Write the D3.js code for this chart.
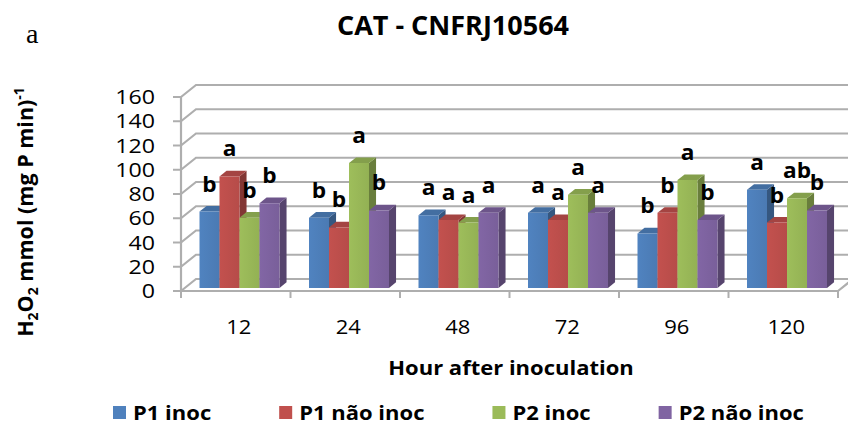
<!DOCTYPE html>
<html>
<head>
<meta charset="utf-8">
<script src="https://cdn.jsdelivr.net/npm/d3@7"></script>
<style>
  html, body { margin: 0; padding: 0; background: #ffffff; }
  svg { display: block; }
  text { font-family: "Open Sans", "Liberation Sans", sans-serif; }
</style>
</head>
<body>
<svg id="chart" width="848" height="425"></svg>
<script>
// Catalase activity by hour after inoculation
const hours = ["12", "24", "48", "72", "96", "120"];
const seriesNames = ["P1 inoc", "P1 não inoc", "P2 inoc", "P2 não inoc"];
const seriesColors = ["#4F81BD", "#C0504D", "#9BBB59", "#8064A2"];

const p1Inoc      = [63, 58, 60, 62, 45, 81];
const p1NaoInoc   = [92, 50, 56, 56, 62, 54];
const p2Inoc      = [58, 103, 54, 77, 89, 74];
const p2NaoInoc   = [70, 64, 62, 62, 56, 64];

// Significance letters above each bar
const p1InocLetters    = ["b", "b", "a", "a", "b", "a"];
const p1NaoInocLetters = ["a", "b", "a", "a", "b", "b"];
const p2InocLetters    = ["b", "a", "a", "a", "a", "ab"];
const p2NaoInocLetters = ["b", "b", "a", "a", "b", "b"];

const yTicks = [0, 20, 40, 60, 80, 100, 120, 140, 160];

const seriesValues = [p1Inoc, p1NaoInoc, p2Inoc, p2NaoInoc];
const seriesLetters = [p1InocLetters, p1NaoInocLetters, p2InocLetters, p2NaoInocLetters];

const svg = d3.select("#chart");

// Horizontally widened text (the chart's font runs wide)
function wideText(parent, x, yPos, sx, anchor) {
  return parent.append("text")
    .attr("transform", `translate(${x},${yPos}) scale(${sx},1)`)
    .attr("text-anchor", anchor || "start");
}

// Front plane scales
const x0 = d3.scaleBand().domain(hours).range([181, 838]).padding(0);
const x1 = d3.scaleBand().domain(seriesNames).range([0, x0.bandwidth()])
  .paddingInner(0).paddingOuter(0.7375);
const y = d3.scaleLinear().domain([0, 160]).range([291, 97]);

// Depth of the box (back wall offset)
const depth = { dx: 15, dy: -12 };
const proj = (px, v, z) => [px + z * depth.dx, y(v) + z * depth.dy];

const gridColor = "#aeaeae";

// Back wall gridlines and left wall diagonals
const grid = svg.append("g");
yTicks.forEach(t => {
  const a = proj(181, t, 0), b = proj(181, t, 1), c = proj(x0.range()[1], t, 1);
  grid.append("path")
    .attr("d", d3.line()([a, b, c]))
    .attr("fill", "none").attr("stroke", gridColor).attr("stroke-width", 2.2);
});

// Floor edges and left wall front edge
const floorFront = [proj(181, 0, 0), proj(x0.range()[1], 0, 0), proj(x0.range()[1], 0, 1)];
grid.append("path").attr("d", d3.line()(floorFront))
  .attr("fill", "none").attr("stroke", gridColor).attr("stroke-width", 2.2);
grid.append("line")
  .attr("x1", 181).attr("y1", y(0)).attr("x2", 181).attr("y2", y(160))
  .attr("stroke", gridColor).attr("stroke-width", 2.2);

// Value axis ticks and labels
const yAxis = svg.append("g");
yTicks.forEach(t => {
  yAxis.append("line").attr("x1", 173).attr("x2", 181)
    .attr("y1", y(t)).attr("y2", y(t))
    .attr("stroke", gridColor).attr("stroke-width", 2);
  wideText(yAxis, 155, y(t), 1.16, "end").attr("dy", "0.36em")
    .attr("font-size", 20).attr("fill", "#000").text(t);
});

// Category axis ticks and labels
const xAxis = svg.append("g");
const bounds = hours.map(h => x0(h)).concat([x0.range()[1]]);
bounds.forEach(bx => {
  xAxis.append("line").attr("x1", bx).attr("x2", bx).attr("y1", y(0)).attr("y2", y(0) + 7)
    .attr("stroke", gridColor).attr("stroke-width", 2);
});
hours.forEach(h => {
  wideText(xAxis, x0(h) + x0.bandwidth() / 2 + 3, 334, 1.1, "middle")
    .attr("font-size", 20).attr("fill", "#000").text(h);
});

// 3D columns: front face at zFront, back at zBack
const zFront = 0.25, zBack = 0.72;
const bars = svg.append("g");
const defs = svg.append("defs");
seriesColors.forEach((c, i) => {
  const g = defs.append("linearGradient").attr("id", "grad" + i)
    .attr("x1", 0).attr("x2", 1).attr("y1", 0).attr("y2", 0);
  g.append("stop").attr("offset", "0%").attr("stop-color", d3.color(c).brighter(0.05));
  g.append("stop").attr("offset", "100%").attr("stop-color", d3.color(c).darker(0.15));
});

hours.forEach((h, hi) => {
  seriesNames.forEach((s, si) => {
    const v = seriesValues[si][hi];
    const color = seriesColors[si];
    const left = x0(h) + x1(s);
    const right = left + x1.bandwidth();
    const fl0 = proj(left, 0, zFront), fr0 = proj(right, 0, zFront);
    const flv = proj(left, v, zFront), frv = proj(right, v, zFront);
    const br0 = proj(right, 0, zBack), brv = proj(right, v, zBack), blv = proj(left, v, zBack);
    const line = d3.line();
    // right side face
    bars.append("path").attr("d", line([fr0, frv, brv, br0]) + "Z")
      .attr("fill", d3.color(color).darker(1.1));
    // top face
    bars.append("path").attr("d", line([flv, frv, brv, blv]) + "Z")
      .attr("fill", d3.color(color).darker(0.45));
    // front face
    bars.append("path").attr("d", line([fl0, flv, frv, fr0]) + "Z")
      .attr("fill", "url(#grad" + si + ")");
  });
});

// Letters above the columns
const letters = svg.append("g");
hours.forEach((h, hi) => {
  seriesNames.forEach((s, si) => {
    const v = seriesValues[si][hi];
    const cx = x0(h) + x1(s) + x1.bandwidth() / 2 + zFront * depth.dx;
    const top = y(v) + zFront * depth.dy;
    wideText(letters, cx, top - 20, 1.08, "middle")
      .attr("font-size", 21).attr("font-weight", 700)
      .attr("fill", "#000").text(seriesLetters[si][hi]);
  });
});

// Titles
svg.append("text").attr("x", 26).attr("y", 43)
  .style("font-family", "'Liberation Serif', serif")
  .attr("font-size", 28).attr("fill", "#000").text("a");

svg.append("text").attr("x", 453).attr("y", 35).attr("text-anchor", "middle")
  .attr("font-size", 27).attr("font-weight", 700).attr("fill", "#000")
  .text("CAT - CNFRJ10564");

wideText(svg, 511, 375, 1.1, "middle")
  .attr("font-size", 20).attr("font-weight", 700).attr("fill", "#000")
  .text("Hour after inoculation");

const yTitle = svg.append("text")
  .attr("transform", "translate(33,212) rotate(-90)")
  .attr("text-anchor", "middle").attr("font-size", 21.5).attr("font-weight", 700).attr("fill", "#000");
yTitle.append("tspan").text("H");
yTitle.append("tspan").attr("font-size", 14).attr("dy", 5).text("2");
yTitle.append("tspan").attr("dy", -5).text("O");
yTitle.append("tspan").attr("font-size", 14).attr("dy", 5).text("2");
yTitle.append("tspan").attr("dy", -5).text(" mmol (mg P min)");
yTitle.append("tspan").attr("font-size", 14).attr("dy", -9).text("-1");

// Legend
const legend = svg.append("g");
const legendStretch = 1.1;
let cursor = 113;
seriesNames.forEach((s, i) => {
  legend.append("rect").attr("x", cursor).attr("y", 406).attr("width", 13).attr("height", 13)
    .attr("fill", seriesColors[i]);
  const t = wideText(legend, cursor + 20, 419.5, legendStretch, "start")
    .attr("font-size", 20).attr("font-weight", 700).attr("fill", "#000").text(s);
  cursor += 20 + t.node().getComputedTextLength() * legendStretch + 68;
});
</script>
</body>
</html>
